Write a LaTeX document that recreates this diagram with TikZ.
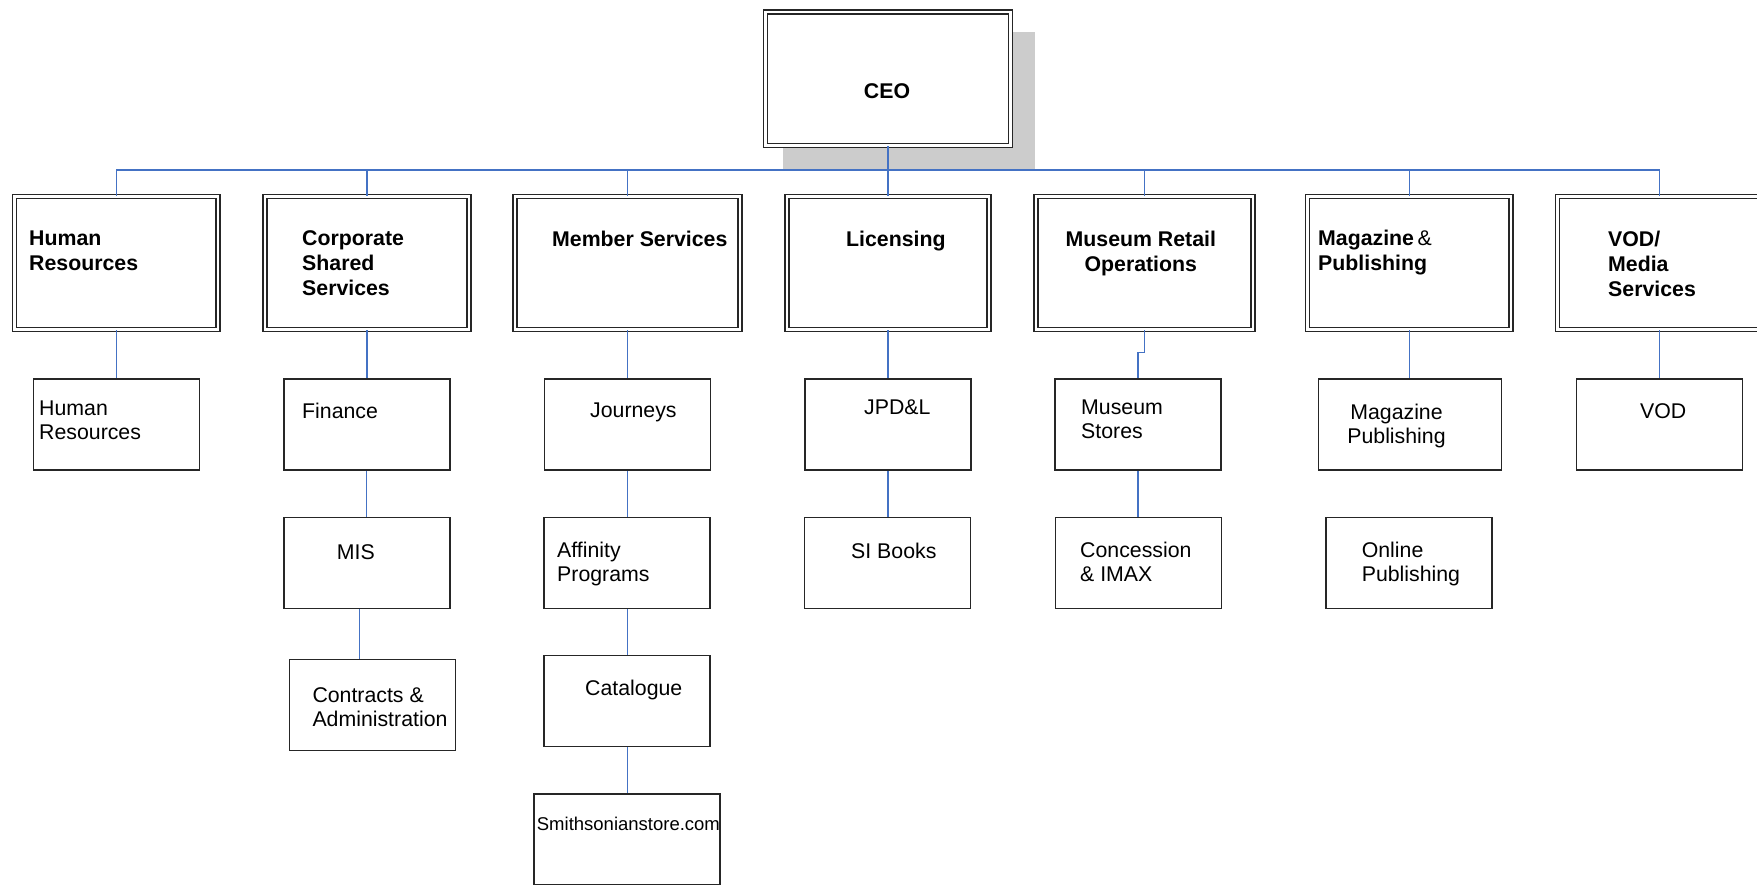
\documentclass[tikz,border=0pt]{standalone}
\usepackage{fontspec}
\setmainfont{Liberation Sans}
\usetikzlibrary{positioning, calc}
\definecolor{linkblue}{RGB}{68,114,196}
\definecolor{shadowgray}{RGB}{204,204,204}

\tikzset{
    headbox/.style={draw=black!85, double, line width=1.6pt, double distance=2.4pt, fill=white,
        minimum width=203.7pt, minimum height=133pt, inner sep=0pt},
    unitbox/.style={draw=black!85, line width=1.5pt, fill=white,
        minimum width=166pt, minimum height=91pt, inner sep=0pt},
    link/.style={linkblue, line width=1.3pt},
    headtxt/.style={font=\fontsize{21.3}{25}\selectfont\bfseries, align=left, anchor=base west, inner sep=0pt},
    unittxt/.style={font=\fontsize{21.3}{23.8}\selectfont, align=left, anchor=base west, inner sep=0pt},
}

\begin{document}
\begin{tikzpicture}[x=1pt, y=-1pt]
    \useasboundingbox (0,0) rectangle (1757,884);
    \clip (0,0) rectangle (1757,884);

    % Ombre du CEO
    \fill[shadowgray] (783,32) rectangle (1035,170);

    % === CEO ===
    \node[headbox, minimum width=245pt, minimum height=133.7pt] (ceo) at (888,78.7) {};
    \node[font=\fontsize{21.3}{25}\selectfont\bfseries, anchor=base, inner sep=0pt] (ceotxt) at (887,98.3) {CEO};

    % === Directions ===
    \node[headbox] (hr) at (116.4,263) {};
    \node[headbox] (css) at (367,263) {};
    \node[headbox, minimum width=224.8pt] (mem) at (627.6,263) {};
    \node[headbox, minimum width=202.4pt] (lic) at (888,263) {};
    \node[headbox, minimum width=217pt] (mro) at (1144.4,263) {};
    \node[headbox] (mag) at (1409.4,263) {};
    \node[headbox] (vod) at (1659.3,263) {};

    % (base = derniere ligne)
    \node[headtxt] (hrtxt) at (29,270.7) {Human\\Resources};
    \node[headtxt] (csstxt) at (302,295.7) {Corporate\\Shared\\Services};
    \node[headtxt] (memtxt) at (552,246) {Member Services};
    \node[headtxt] (lictxt) at (846,246) {Licensing};
    \node[headtxt, align=center, anchor=base] (mrotxt) at (1140.8,271) {Museum Retail\\Operations};
    \node[headtxt] (magtxt) at (1318,270) {Magazine\,{\mdseries\&}\\Publishing};
    \node[headtxt] (vodtxt) at (1608,296.5) {VOD/\\Media\\Services};

    % === Services ===
    \node[unitbox] (hr1) at (116.5,424.5) {};
    \node[unitbox] (fin) at (366.8,424.5) {};
    \node[unitbox] (mis) at (366.8,562.9) {};
    \node[unitbox] (ctr) at (372.5,704.9) {};
    \node[unitbox] (jou) at (627.3,424.5) {};
    \node[unitbox] (aff) at (627.2,562.9) {};
    \node[unitbox] (cat) at (627.2,701.2) {};
    \node[unitbox, minimum width=186pt] (sst) at (627.2,839.5) {};
    \node[unitbox] (jpd) at (888,424.5) {};
    \node[unitbox] (sib) at (887.4,562.9) {};
    \node[unitbox] (mst) at (1138,424.5) {};
    \node[unitbox] (cim) at (1138.3,562.9) {};
    \node[unitbox, minimum width=182.8pt] (mpb) at (1409.9,424.5) {};
    \node[unitbox] (opb) at (1409.2,562.9) {};
    \node[unitbox] (vod1) at (1659.5,424.5) {};

    \node[unittxt] (hr1txt) at (39,439.3) {Human\\Resources};
    \node[unittxt] (fintxt) at (302,418) {Finance};
    \node[unittxt] (mistxt) at (336.7,559) {MIS};
    \node[unittxt] (ctrtxt) at (312.3,726.5) {Contracts \&\\Administration};
    \node[unittxt] (joutxt) at (590,417.5) {Journeys};
    \node[unittxt] (afftxt) at (557,581) {Affinity\\Programs};
    \node[unittxt] (cattxt) at (585,695) {Catalogue};
    \node[unittxt, font=\fontsize{18.5}{22}\selectfont] (ssttxt) at (536.7,830.7) {Smithsonianstore.com};
    \node[unittxt] (jpdtxt) at (864,414.5) {JPD\&L};
    \node[unittxt] (sibtxt) at (851,558) {SI Books};
    \node[unittxt] (msttxt) at (1081,438.6) {Museum\\Stores};
    \node[unittxt] (cimtxt) at (1080,581) {Concession\\\& IMAX};
    \node[unittxt, align=center, anchor=base] (mpbtxt) at (1396.5,443) {Magazine\\Publishing};
    \node[unittxt] (opbtxt) at (1361.6,581) {Online\\Publishing};
    \node[unittxt] (vod1txt) at (1640,418) {VOD};

    % === Liaisons ===
    \coordinate (bus) at (888,170);
    \draw[link] (ceo.south) -- (lic.north);
    \foreach \d in {hr,css,mem,mro,mag,vod}
        \draw[link] (bus) -| (\d.north);
    \foreach \a/\b in {hr/hr1, css/fin, fin/mis, mem/jou, jou/aff, aff/cat, cat/sst,
                       lic/jpd, jpd/sib, mst/cim, mag/mpb, vod/vod1}
        \draw[link] (\a.south) -- (\a.south |- \b.north);
    \draw[link] ([xshift=-7pt]mis.south) -- ([xshift=-7pt]mis.south |- ctr.north);
    \draw[link] (mro.south) -- ++(0,22) -| (mst.north);
\end{tikzpicture}
\end{document}
